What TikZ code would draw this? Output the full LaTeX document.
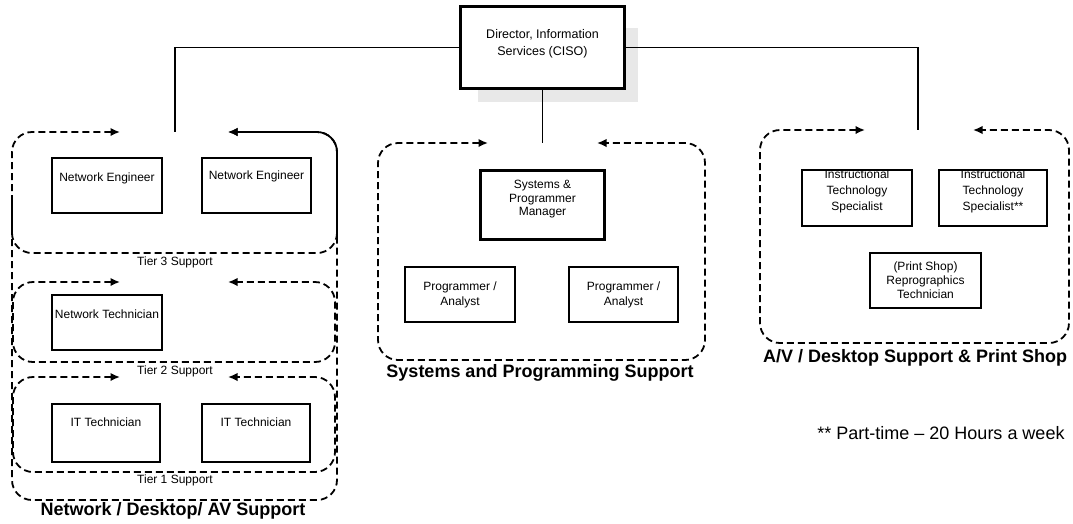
\documentclass[tikz,border=0pt]{standalone}
\usepackage{fontspec}
\setmainfont{Liberation Sans}
\usetikzlibrary{arrows.meta,backgrounds}
\begin{document}
\begin{tikzpicture}[x=1pt,y=-1pt,
  box/.style={draw, fill=white, line width=1.3pt, inner sep=0pt},
  bigbox/.style={draw, fill=white, line width=2.4pt, inner sep=0pt},
  btext/.style={font=\fontsize{12}{15}\selectfont, align=center, anchor=north, inner sep=0pt},
  tb/.style 2 args={label={[btext, #1]north:{#2}}},
  grp/.style={line width=1.8pt, dash pattern=on 7pt off 4pt, rounded corners=20pt},
  solidgrp/.style={line width=1.8pt, rounded corners=20pt},
  tips/.style={{Latex[length=9.5pt,width=8.5pt]}-{Latex[length=9.5pt,width=8.5pt]}},
  conn/.style={line width=1.3pt},
  title/.style={font=\bfseries\fontsize{18}{20}\selectfont, inner sep=0pt},
  tier/.style={font=\fontsize{12}{13}\selectfont, inner sep=0pt},
  note/.style={font=\fontsize{18}{20}\selectfont, inner sep=0pt},
]
\useasboundingbox (0,0) rectangle (1073,523);

% ---------------- Director ----------------
\begin{scope}[on background layer]
  \fill[gray!18] (478,28) rectangle (638,102);
\end{scope}
\node[bigbox, minimum width=165pt, minimum height=83pt,
      tb={yshift=-24pt, font=\fontsize{12.5}{17}\selectfont}{Director, Information\\Services (CISO)}] (dir) at (542.5,47.5) {};
\draw[line width=0.8pt] ([xshift=3pt,yshift=-3pt]dir.north west) rectangle ([xshift=-3pt,yshift=3pt]dir.south east);

% ---------------- Left group ----------------
\draw[grp, tips] (120,132) -- (12,132) -- (12,500) -- (337,500) -- (337,132) -- (228,132);
\draw[grp] (12,200) -- (12,253) -- (337,253) -- (337,200);
\draw[solidgrp, {Latex[length=9.5pt,width=8.5pt]}-] (228,132) -- (337,132) -- (337,238);
\draw[grp, tips] (120,282) -- (13,282) -- (13,362) -- (335,362) -- (335,282) -- (228,282);
\draw[grp, tips] (120,377) -- (13,377) -- (13,472) -- (335,472) -- (335,377) -- (228,377);

\node[box, minimum width=110pt, minimum height=55pt, tb={yshift=-15pt}{Network Engineer}] (ne1) at (107,185.5) {};
\node[box, minimum width=109pt, minimum height=55pt, tb={yshift=-13.5pt}{Network Engineer}] (ne2) at (256.5,185.5) {};
\node[box, minimum width=110pt, minimum height=55pt, tb={yshift=-15pt}{Network Technician}] (nt) at (107,322.5) {};
\node[box, minimum width=108pt, minimum height=58pt, tb={yshift=-14pt}{IT Technician}] (it1) at (106,433) {};
\node[box, minimum width=108pt, minimum height=58pt, tb={yshift=-14pt}{IT Technician}] (it2) at (256,433) {};

\node[tier] (t3) at (175,262) {Tier 3 Support};
\node[tier] (t2) at (175,371) {Tier 2 Support};
\node[tier] (t1) at (175,480) {Tier 1 Support};
\node[title] (ttl1) at (173,511) {Network / Desktop/ AV Support};

% ---------------- Middle group ----------------
\draw[grp, tips] (488,143) -- (378,143) -- (378,360) -- (705,360) -- (705,143) -- (597,143);
\node[bigbox, minimum width=125pt, minimum height=70pt,
      tb={yshift=-11pt, font=\fontsize{12}{13.8}\selectfont}{Systems \&\\Programmer\\Manager}] (mgr) at (542.5,205) {};
\draw[line width=0.8pt] ([xshift=3pt,yshift=-3pt]mgr.north west) rectangle ([xshift=-3pt,yshift=3pt]mgr.south east);
\node[box, minimum width=110pt, minimum height=55pt, tb={yshift=-15pt}{Programmer /\\Analyst}] (pa1) at (460,294.5) {};
\node[box, minimum width=109pt, minimum height=55pt, tb={yshift=-15pt}{Programmer /\\Analyst}] (pa2) at (623.5,294.5) {};
\node[title] (ttl2) at (540,373) {Systems and Programming Support};

% ---------------- Right group ----------------
\draw[grp, tips] (865,130) -- (760,130) -- (760,343) -- (1069,343) -- (1069,130) -- (973,130);
\node[box, minimum width=110pt, minimum height=56pt,
      tb={yshift=0pt, font=\fontsize{12}{16}\selectfont}{Instructional\\Technology\\Specialist}] (is1) at (857,198) {};
\node[box, minimum width=108pt, minimum height=56pt,
      tb={yshift=0pt, font=\fontsize{12}{16}\selectfont}{Instructional\\Technology\\Specialist**}] (is2) at (993,198) {};
\node[box, minimum width=111pt, minimum height=55pt,
      tb={yshift=-9pt, font=\fontsize{12}{14}\selectfont}{(Print Shop)\\Reprographics\\Technician}] (ps) at (925.5,280.5) {};
\node[title] (ttl3) at (915,358) {A/V / Desktop Support \& Print Shop};

\node[note] (fn) at (941,433) {** Part-time – 20 Hours a week};

% ---------------- Connectors ----------------
\coordinate (g1) at (175,132);
\coordinate (g2) at (542.5,143);
\coordinate (g3) at (918,130);
\draw[conn] (dir.west) -| (g1);
\draw[conn] (dir.east) -| (g3);
\draw[conn] (dir.south) -- (g2);
\end{tikzpicture}
\end{document}
